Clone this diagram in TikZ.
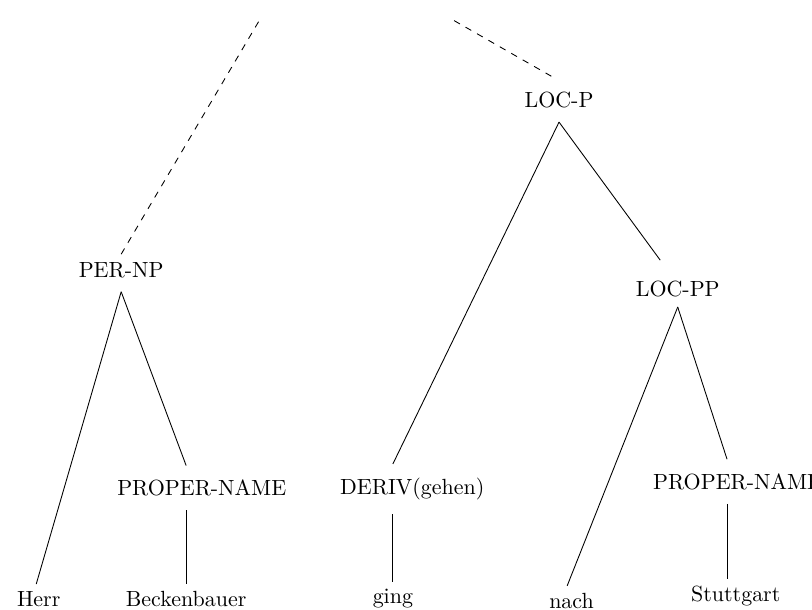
\documentclass[tikz,border=0pt]{standalone}
\usepackage{tikz}

\begin{document}
\begin{tikzpicture}[
    cat/.style={inner xsep=0pt, inner ysep=0.22cm},
    word/.style={inner xsep=0pt, inner ysep=0.11cm}
]

    \useasboundingbox (0,0) rectangle (13,9.75);

    % Left part: person noun phrase
    \node[cat] (pernp) at (1.94, 5.43) {PER-NP};
    \node[cat] (propl) at (3.23, 1.94) {PROPER-NAME};
    \node[word] (herr) at (0.62, 0.16) {Herr};
    \node[word] (beck) at (2.98, 0.16) {Beckenbauer};

    \draw (pernp.south) -- ([xshift=-0.04cm]herr.north);
    \draw (pernp.south) -- (propl.north -| beck.north);
    \draw (propl.south -| beck.north) -- (beck.north);

    % Right part: location phrase
    \node[cat] (locp) at (8.95, 8.15) {LOC-P};
    \node[cat] (deriv) at (6.60, 1.92) {DERIV(gehen)};
    \node[word] (ging) at (6.29, 0.16) {ging};
    \node[cat] (locpp) at (10.85, 5.13) {LOC-PP};
    \node[word] (nach) at (9.15, 0.13) {nach};
    \node[cat] (propr) at (11.81, 2.04) {PROPER-NAME};
    \node[word] (stutt) at (11.78, 0.20) {Stuttgart};

    \draw (locp.south) -- (deriv.north -| ging.north);
    \draw (locp.south) -- ([xshift=-0.28cm,yshift=0.1cm]locpp.north);
    \draw (deriv.south -| ging.north) -- (ging.north);

    \draw ([yshift=0.06cm]locpp.south) -- ([xshift=-0.07cm]nach.north);
    \draw ([yshift=0.06cm]locpp.south) -- ([xshift=-0.17cm]propr.north);
    \draw ([xshift=-0.17cm]propr.south) -- ([xshift=-0.17cm]propr.south |- stutt.north);

    % Upper tree (only hinted with dashes)
    \coordinate (upl) at (4.15, 9.42);
    \coordinate (upr) at (7.27, 9.42);
    \draw[dashed] ([yshift=-0.1cm]pernp.north) -- (upl);
    \draw[dashed] (upr) -- ([xshift=-0.08cm]locp.north);

\end{tikzpicture}
\end{document}
